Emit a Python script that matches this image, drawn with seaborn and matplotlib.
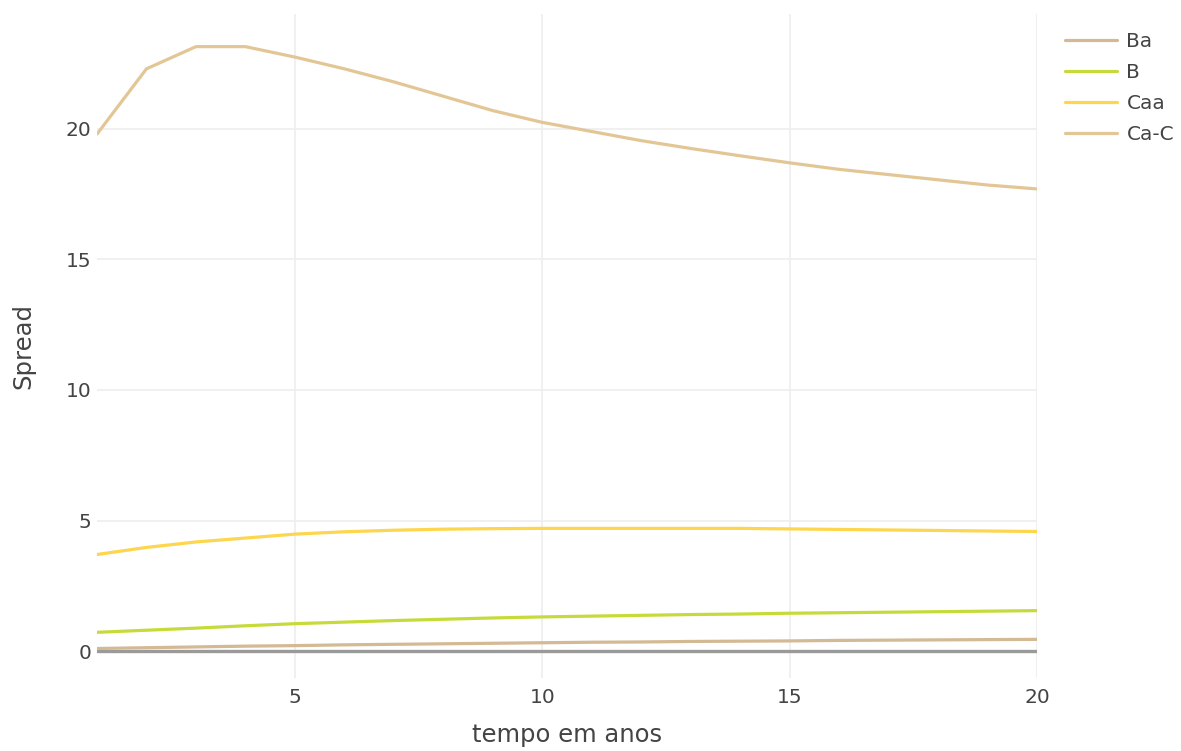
import matplotlib
matplotlib.use("Agg")
import matplotlib.pyplot as plt
import pandas as pd
import seaborn as sns

anos = list(range(1, 21))
series = ["Ba", "B", "Caa", "Ca-C"]
ba = [0.10, 0.13, 0.16, 0.19, 0.21, 0.24, 0.26, 0.28, 0.30, 0.32,
      0.34, 0.35, 0.37, 0.38, 0.39, 0.41, 0.42, 0.43, 0.44, 0.45]
b = [0.72, 0.80, 0.88, 0.97, 1.05, 1.11, 1.17, 1.22, 1.27, 1.31,
     1.34, 1.37, 1.40, 1.42, 1.45, 1.47, 1.49, 1.51, 1.53, 1.55]
caa = [3.70, 3.97, 4.18, 4.33, 4.48, 4.57, 4.63, 4.67, 4.69, 4.70,
       4.70, 4.70, 4.70, 4.70, 4.68, 4.66, 4.64, 4.62, 4.60, 4.58]
ca_c = [19.8, 22.3, 23.15, 23.15, 22.75, 22.3, 21.8, 21.25, 20.7, 20.25,
        19.9, 19.55, 19.25, 18.97, 18.7, 18.45, 18.25, 18.05, 17.85, 17.7]
cores = ["#d3b994", "#c6db3a", "#fdd64e", "#e3c696"]

df = pd.DataFrame({
    "ano": anos * 4,
    "spread": ba + b + caa + ca_c,
    "serie": [s for s in series for _ in anos],
})

sns.set_style("white")
plt.rcParams["font.family"] = ["DejaVu Sans"]

fig = plt.figure(figsize=(11.81, 7.51), dpi=100)
ax = fig.add_axes([97 / 1181, 73 / 751, 940 / 1181, 664 / 751])

ax.axhline(0, color="#9a9a9a", lw=2.4, zorder=1)
sns.lineplot(data=df, x="ano", y="spread", hue="serie", hue_order=series,
             palette=cores, linewidth=2.3, ax=ax, zorder=3)

ax.set_xlim(1, 20)
ax.set_ylim(-1.03, 24.4)
ax.set_xticks([5, 10, 15, 20])
ax.set_yticks([0, 5, 10, 15, 20])
ax.grid(True, color="#eeeeee", lw=1.2)
ax.set_axisbelow(True)
for s in ax.spines.values():
    s.set_visible(False)
ax.tick_params(axis="both", length=0, labelsize=14.5, colors="#444444")
ax.tick_params(axis="y", pad=4)
ax.tick_params(axis="x", pad=7)
ax.set_xlabel("tempo em anos", fontsize=17.5, color="#444444", labelpad=12)
ax.set_ylabel("Spread", fontsize=17.5, color="#444444", labelpad=22)

handles, labels = ax.get_legend_handles_labels()
ax.legend(handles, labels, loc="upper left",
          bbox_to_anchor=(1065 / 1181, 1 - 32 / 751),
          bbox_transform=fig.transFigure, frameon=False, fontsize=14.5,
          handlelength=2.6, handletextpad=0.45, labelspacing=0.6,
          borderpad=0, borderaxespad=0, labelcolor="#444444")

fig.savefig("out.png", dpi=100)
